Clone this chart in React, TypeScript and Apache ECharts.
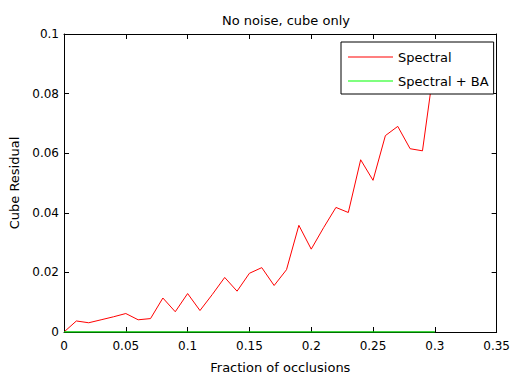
import React, { useEffect, useRef } from "react";
import * as echarts from "echarts";

// Fraction of occluded observations (x) for each trial
const fractions: number[] = [
  0, 0.01, 0.02, 0.03, 0.04, 0.05, 0.06, 0.07, 0.08, 0.09, 0.1,
  0.11, 0.12, 0.13, 0.14, 0.15, 0.16, 0.17, 0.18, 0.19, 0.2,
  0.21, 0.22, 0.23, 0.24, 0.25, 0.26, 0.27, 0.28, 0.29, 0.3,
];

// Residual of the spectral reconstruction
const spectral: number[] = [
  0, 0.0037, 0.0031, 0.0041, 0.0051, 0.0062, 0.0041, 0.0045, 0.0114, 0.0068, 0.0129,
  0.0072, 0.0126, 0.0183, 0.0137, 0.0197, 0.0216, 0.0156, 0.0209, 0.0358, 0.0278,
  0.035, 0.0418, 0.0401, 0.0578, 0.0509, 0.0659, 0.069, 0.0615, 0.0608, 0.091,
];

// Residual after bundle adjustment
const spectralBA: number[] = [
  0, 0, 0, 0, 0, 0, 0, 0, 0, 0, 0,
  0, 0, 0, 0, 0, 0, 0, 0, 0, 0,
  0, 0, 0, 0, 0, 0, 0, 0, 0, 0,
];

const seriesNames = ["Spectral", "Spectral + BA"];
const seriesColors = ["#ff0000", "#00ff00"];
const titleText = "No noise, cube only";
const xLabel = "Fraction of occlusions";
const yLabel = "Cube Residual";

const FONT = "DejaVu Sans";
const INK = "#000";

export default function App() {
  const ref = useRef<HTMLDivElement>(null);

  useEffect(() => {
    if (!ref.current) return;
    const chart = echarts.init(ref.current, null, { renderer: "svg" });

    const pairs = (ys: number[]) => fractions.map((x, i) => [x, ys[i]]);

    const makeX = (position: string, withLabels: boolean) => ({
      type: "value",
      min: 0,
      max: 0.35,
      interval: 0.05,
      position,
      name: withLabels ? xLabel : "",
      nameLocation: "middle",
      nameGap: 29,
      nameTextStyle: { fontFamily: FONT, fontSize: 13, color: INK },
      axisLine: { show: true, onZero: false, lineStyle: { color: INK, width: 1 } },
      axisTick: { show: true, inside: true, length: 5, lineStyle: { color: INK, width: 1 } },
      axisLabel: { show: withLabels, inside: false, fontFamily: FONT, fontSize: 12, color: INK, margin: 8 },
      splitLine: { show: false },
    });

    const makeY = (position: string, withLabels: boolean) => ({
      type: "value",
      min: 0,
      max: 0.1,
      interval: 0.02,
      position,
      name: withLabels ? yLabel : "",
      nameLocation: "middle",
      nameGap: 42,
      nameTextStyle: { fontFamily: FONT, fontSize: 13, color: INK },
      axisLine: { show: true, onZero: false, lineStyle: { color: INK, width: 1 } },
      axisTick: { show: true, inside: true, length: 5, lineStyle: { color: INK, width: 1 } },
      axisLabel: { show: withLabels, inside: false, fontFamily: FONT, fontSize: 12, color: INK, margin: 5 },
      splitLine: { show: false },
    });

    chart.setOption({
      animation: false,
      backgroundColor: "#fff",
      textStyle: { fontFamily: FONT, color: INK },
      title: {
        text: titleText,
        left: 281,
        textAlign: "center",
        top: 9,
        textStyle: { fontFamily: FONT, fontSize: 13, fontWeight: "normal", color: INK },
      },
      legend: {
        data: seriesNames.map((name) => ({ name, icon: "rect" })),
        orient: "vertical",
        left: 341,
        top: 42,
        padding: [8, 5, 6, 7],
        itemWidth: 45,
        itemHeight: 1,
        itemGap: 10,
        itemTextGap: 4,
        backgroundColor: "#fff",
        borderColor: INK,
        borderWidth: 1,
        borderRadius: 0,
        textStyle: { fontFamily: FONT, fontSize: 13, color: INK, lineHeight: 14 },
      },
      grid: { left: 64, right: 14, top: 34, bottom: 43, containLabel: false },
      xAxis: [makeX("bottom", true), makeX("top", false)],
      yAxis: [makeY("left", true), makeY("right", false)],
      series: [
        {
          name: seriesNames[0],
          type: "line",
          data: pairs(spectral),
          symbol: "none",
          color: seriesColors[0],
          lineStyle: { color: seriesColors[0], width: 1 },
          z: 3,
        },
        {
          name: seriesNames[1],
          type: "line",
          data: pairs(spectralBA),
          symbol: "none",
          color: seriesColors[1],
          lineStyle: { color: "#00c800", width: 1.5 },
          z: 3,
        },
      ],
    });

    return () => chart.dispose();
  }, []);

  return (
    <div
      ref={ref}
      style={{ position: "fixed", left: 0, top: 0, width: 513, height: 379 }}
    />
  );
}
